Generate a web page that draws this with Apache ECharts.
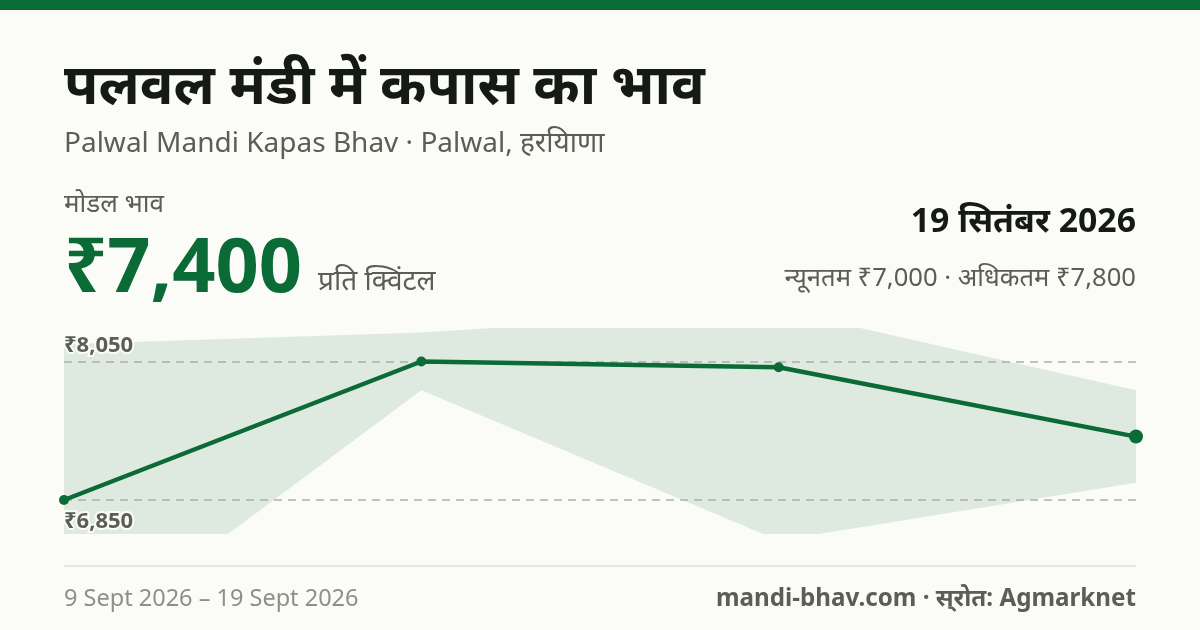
<!DOCTYPE html>
<html>
<head>
<meta charset="utf-8">
<title>पलवल मंडी में कपास का भाव</title>
<script src="https://cdn.jsdelivr.net/npm/echarts@6/dist/echarts.min.js"></script>
<style>
    html, body { margin: 0; padding: 0; background: #fbfcf8; }
    #chart { width: 1200px; height: 630px; }
</style>
</head>
<body>
<div id="chart"></div>
<script>
    // prices in rupees per quintal
    var dates = ['9 Sept', '12 Sept', '16 Sept', '19 Sept'];
    var modalPrices = [6850, 8050, 8000, 7400];
    var minPrices = [5500, 7800, 6500, 7000];
    var maxPrices = [8200, 8300, 8500, 7800];
    var refLines = [8050, 6850];
    var refLabels = ['₹8,050', '₹6,850'];

    var GREEN = '#0b6b37';
    var MUTED = '#5b5e52';
    var FONT = '"Noto Sans", "Noto Sans Devanagari", sans-serif';

    // band is drawn as a stack: transparent base + the spread on top
    var spread = maxPrices.map(function (v, i) { return v - minPrices[i]; });

    function text(x, y, str, size, color, weight, align) {
        return {
            type: 'text',
            x: x,
            y: y,
            style: {
                text: str,
                font: (weight || 'normal') + ' ' + size + 'px ' + FONT,
                fill: color,
                align: align || 'left',
                verticalAlign: 'middle'
            }
        };
    }

    var chart = echarts.init(document.getElementById('chart'));
    chart.setOption({
        animation: false,
        backgroundColor: '#fbfcf8',
        grid: { left: 64, right: 64, top: 328, height: 206 },
        xAxis: { type: 'category', boundaryGap: false, data: dates, show: false },
        yAxis: { type: 'value', min: 6556, max: 8340, show: false },
        graphic: [
            { type: 'rect', shape: { x: 0, y: 0, width: 1200, height: 10 }, style: { fill: GREEN } },
            text(64, 88, 'पलवल मंडी में कपास का भाव', 56, '#161a16', 'bold'),
            text(64, 144, 'Palwal Mandi Kapas Bhav · Palwal, हरयिाणा', 28, MUTED),
            text(64, 205, 'मोडल भाव', 26, MUTED),
            text(64, 270, '₹7,400', 75.7, GREEN, 'bold'),
            text(318, 282, 'प्रति क्विंटल', 28, MUTED),
            text(1136, 222, '19 सितंबर 2026', 33.8, '#161a16', 'bold', 'right'),
            text(1136, 279, 'न्यूनतम ₹7,000 · अधिकतम ₹7,800', 25.6, MUTED, 'normal', 'right'),
            { type: 'rect', shape: { x: 64, y: 565, width: 1072, height: 2 }, style: { fill: '#e4e6df' } },
            text(64, 599, '9 Sept 2026 – 19 Sept 2026', 23.5, '#8e9088'),
            text(1136, 599, 'mandi-bhav.com · स्\u200Cरोत: Agmarknet', 24.2, MUTED, 'bold', 'right')
        ],
        series: [
            {
                type: 'line',
                stack: 'band',
                data: minPrices,
                symbol: 'none',
                lineStyle: { width: 0, opacity: 0 },
                silent: true
            },
            {
                type: 'line',
                stack: 'band',
                data: spread,
                symbol: 'none',
                lineStyle: { width: 0, opacity: 0 },
                areaStyle: { color: 'rgba(15,102,60,0.12)', opacity: 1 },
                silent: true
            },
            {
                type: 'line',
                data: modalPrices.map(function (v, i) {
                    return {
                        value: v,
                        symbolSize: i === modalPrices.length - 1 ? 14 : 10
                    };
                }),
                symbol: 'circle',
                showSymbol: true,
                lineStyle: { color: GREEN, width: 4.4 },
                itemStyle: { color: GREEN },
                z: 5,
                markLine: {
                    silent: true,
                    symbol: 'none',
                    lineStyle: { color: '#adb0a7', type: [8, 6], width: 1.5 },
                    data: refLines.map(function (v, i) {
                        return {
                            yAxis: v,
                            label: {
                                show: true,
                                formatter: refLabels[i],
                                position: i === 0 ? 'insideStartTop' : 'insideStartBottom',
                                distance: i === 0 ? [0, 5] : [0, 11],
                                fontFamily: FONT,
                                fontSize: 22,
                                fontWeight: 'bold',
                                color: MUTED,
                                textBorderColor: '#fbfcf8',
                                textBorderWidth: 4
                            }
                        };
                    })
                }
            }
        ]
    });
</script>
</body>
</html>
